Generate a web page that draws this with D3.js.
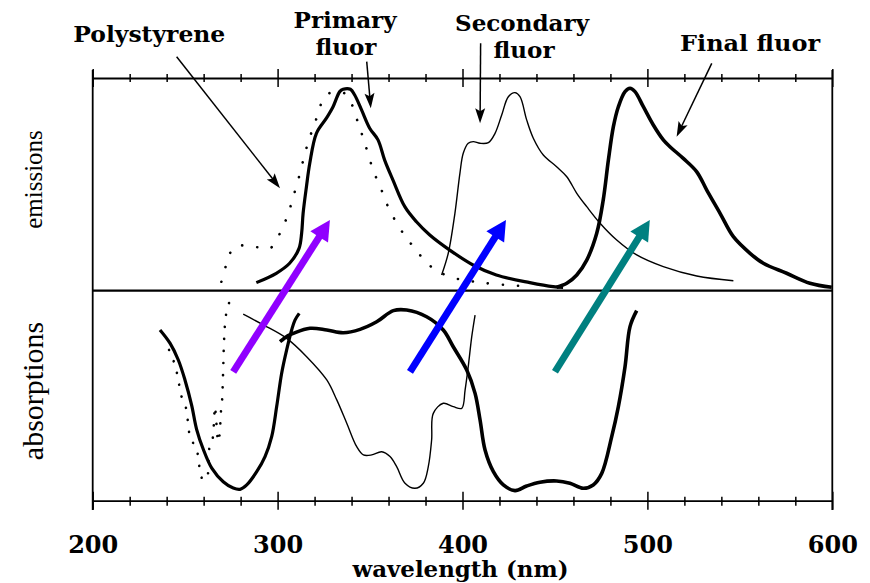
<!DOCTYPE html>
<html><head><meta charset="utf-8">
<script src="https://cdn.jsdelivr.net/npm/d3@7"></script>
<style>body{margin:0;background:#fff} svg{display:block}</style>
</head><body><svg id="chart" width="870" height="583"></svg>
<script>
// ---- data: [wavelength (nm), relative intensity] ----
const xTickValues = d3.range(200, 601, 20);
const xTickLabels = [200, 300, 400, 500, 600];

// emission spectra (upward, 0..100 units)
const polystyreneEmission = [[269.6,4.2],[272.5,12.9],[275.9,19.9],[280.5,21.3],[285.9,20.7],[291,20.3],[295.9,19.9],[301.3,27.0],[305.8,36.4],[308.5,44.2],[312.1,55.2],[314.8,64.6],[317.5,72.4],[320.2,78.7],[322.9,86.5],[326.4,92.0],[331.9,93.6],[336.3,92.8],[339.1,89.7],[343.6,78.7],[347.2,69.3],[351.7,56.7],[356.2,47.3],[360.6,37.9],[367.9,27.0],[374.2,19.9],[382.3,11.8],[393.1,6.6],[413.0,3.5],[432.8,2.2]];
const primaryEmission = [[288.5,3.8],[299.3,8.2],[306.5,12.9],[311.6,19.9],[313.0,27.0],[313.8,36.4],[315.6,48.9],[317.4,59.9],[321.0,74.0],[326.4,81.1],[330.0,86.5],[333.6,93.6],[335.4,94.7],[339.4,94.7],[341.7,92.0],[345.4,85.0],[349.8,76.4],[354.3,70.9],[357.9,61.4],[362.4,52.0],[368.8,39.5],[375.1,32.4],[382.3,26.2],[393.1,19.1],[405.7,12.1],[418.3,7.4],[436.4,3.8],[449.0,1.9],[454.4,1.6]];
const secondaryEmission = [[388.7,7.4],[392.3,17.6],[395.9,36.4],[398.6,55.2],[400.4,64.6],[403.1,69.3],[405.8,70.1],[409.5,69.3],[414.0,69.6],[417.6,74.0],[421.2,82.6],[424.8,91.2],[428.4,93.1],[431.1,91.2],[434.7,80.3],[438.3,71.7],[443.7,63.8],[450.9,58.3],[456.4,53.6],[461.8,45.8],[467.2,39.5],[474.4,31.7],[483.4,23.8],[494.2,16.8],[508.6,11.3],[526.7,6.9],[546.5,4.7]];
const finalEmission = [[450.9,1.6],[456.4,3.5],[461.8,7.4],[467.2,14.4],[472.6,27.0],[476.1,42.6],[478.9,61.4],[481.6,77.1],[484.3,86.5],[487.9,93.6],[490.6,95.2],[493.3,93.6],[497.8,86.5],[503.2,77.9],[508.6,70.9],[512.2,67.7],[519.4,62.2],[526.7,55.9],[532.1,47.3],[539.3,36.4],[546.5,25.4],[555.5,17.6],[562.7,12.9],[575.3,8.2],[587.9,3.5],[599.7,1.6]];

// absorption spectra (downward, 0..100 units)
const polystyreneAbsorption = [[241.3,28.2],[244.5,35.4],[246.3,42.5],[247.8,49.7],[250.5,56.0],[251.7,64.0],[253.0,71.1],[255.3,73.5],[257.1,79.0],[258.2,87.0],[259.8,90.1],[261.7,89.3],[263.1,75.0],[264.9,70.3],[265.6,62.4],[266.1,55.2],[267.9,71.9],[268.8,67.1],[269.2,59.2],[270.0,52.0],[270.3,44.9],[270.6,37.0],[270.8,29.8],[271.1,22.7],[271.6,15.5],[272.8,8.4],[276.0,1.0]];
const primaryAbsorption = [[236.4,18.7],[241.8,25.0],[246.3,33.0],[249.9,42.5],[253.5,54.5],[256.2,66.0],[259.8,75.5],[264.4,84.5],[270.6,91.0],[276.0,94.0],[279.7,94.6],[283.3,92.5],[288.7,86.2],[293.2,79.0],[296.8,69.5],[299.5,55.2],[302.2,39.3],[304.9,28.2],[307.6,18.7],[309.4,14.0],[311.7,10.8]];
const secondaryAbsorption = [[281.4,11.2],[292.3,16.3],[304.9,22.7],[315.7,31.4],[326.6,42.5],[332.0,52.0],[337.4,63.1],[342.8,74.3],[346.4,78.2],[350.9,78.2],[356.3,76.7],[360.8,79.0],[364.4,83.8],[368.9,91.7],[374.3,94.1],[378.8,91.7],[381.5,83.8],[383.3,71.1],[384.2,58.4],[389.6,53.6],[395.0,55.2],[399.6,56.0],[401.4,47.3],[403.1,36.2],[405.0,21.9],[406.8,11.6]];
const finalAbsorption = [[301.3,24.3],[305.5,21.5],[308.5,20.3],[317.5,17.9],[326.6,18.7],[335.5,20.0],[344.6,18.4],[353.6,14.8],[362.6,9.5],[369.8,9.2],[380.6,12.4],[389.6,18.7],[395.0,26.7],[402.3,37.8],[406.8,48.9],[409.5,61.6],[412.2,75.9],[416.7,86.2],[422.1,92.5],[428.4,95.2],[434.7,93.0],[441.9,91.2],[450.9,90.6],[458.1,91.7],[465.3,94.1],[470.7,92.5],[475.3,87.0],[480.7,69.5],[484.3,55.2],[487.9,36.2],[490.6,17.1],[494.2,9.5]];

// energy-transfer arrows: from absorption (nm, depth) to emission (nm, height)
const transferFromNm = [276.0, 371.6, 450.0];
const transferToNm = [328.3, 423.5, 501.3];
const transferColors = ["#9000ff", "#0000ff", "#008080"];

// callout labels and pointer arrows (nm, emission units above axis)
const calloutLines = [
  {text: "Polystyrene", nm: 230.6, v: 116.9, len: 152},
  {text: "Primary", nm: 336.5, v: 123.3, len: 103},
  {text: "fluor", nm: 337.0, v: 110.8, len: 61},
  {text: "Secondary", nm: 432.2, v: 122.1, len: 134},
  {text: "fluor", nm: 433.3, v: 109.4, len: 61},
  {text: "Final fluor", nm: 555.5, v: 112.7, len: 140}
];
const pointers = [
  {from: [245.4, 110.0], to: [301.3, 48.2]},
  {from: [348.2, 107.7], to: [350.4, 85.8]},
  {from: [409.8, 116.3], to: [409.5, 78.7]},
  {from: [534.8, 106.9], to: [515.8, 72.4]}
];

// ---- drawing ----
const svg = d3.select("#chart");
const x = d3.scaleLinear().domain([200, 600]).range([92.7, 832.3]);
const yEm = d3.scaleLinear().domain([0, 100]).range([290.7, 78]);
const yAb = d3.scaleLinear().domain([0, 100]).range([290.7, 500.7]);
const serifBold = "'DejaVu Serif', serif";

// axes top and bottom
function styleAxis(g, majorUp, majorDown, minorUp, minorDown) {
  g.select(".domain").attr("stroke", "#000").attr("stroke-width", 1.8);
  g.selectAll(".tick line")
    .attr("stroke", "#000").attr("stroke-width", 1.5)
    .attr("y1", d => d % 100 === 0 ? -majorUp : -minorUp)
    .attr("y2", d => d % 100 === 0 ? majorDown : minorDown);
}
const topAxis = svg.append("g").attr("transform", `translate(0,${yEm(100)})`)
  .call(d3.axisBottom(x).tickValues(xTickValues).tickFormat("").tickSizeOuter(0));
styleAxis(topAxis, 9, 9, 4, 4);

const bottomAxis = svg.append("g").attr("transform", `translate(0,${yAb(100)})`)
  .call(d3.axisBottom(x).tickValues(xTickValues)
    .tickFormat(d => xTickLabels.includes(d) ? d : "").tickSizeOuter(0));
styleAxis(bottomAxis, 9, 9, 4, 5);
bottomAxis.selectAll(".tick text")
  .attr("y", 52).attr("dy", 0)
  .attr("fill", "#000")
  .style("font-family", serifBold).style("font-size", "24px").style("font-weight", "bold");

// frame sides and middle baseline
svg.append("line").attr("x1", x(200)).attr("x2", x(200)).attr("y1", 70).attr("y2", 510)
  .attr("stroke", "#000").attr("stroke-width", 1.8);
svg.append("line").attr("x1", x(600)).attr("x2", x(600)).attr("y1", 70).attr("y2", 510)
  .attr("stroke", "#000").attr("stroke-width", 1.8);
svg.append("line").attr("x1", x(200)).attr("x2", x(600)).attr("y1", yEm(0)).attr("y2", yEm(0))
  .attr("stroke", "#000").attr("stroke-width", 2.2);

// spectra
const curve = d3.curveCatmullRom.alpha(0.5);
const lineEm = d3.line().x(d => x(d[0])).y(d => yEm(d[1])).curve(curve);
const lineAb = d3.line().x(d => x(d[0])).y(d => yAb(d[1])).curve(curve);
const spectra = [
  {data: polystyreneEmission, gen: lineEm, w: 2.6, dash: "0.1 15"},
  {data: polystyreneAbsorption, gen: lineAb, w: 2.6, dash: "0.1 12"},
  {data: primaryEmission, gen: lineEm, w: 3.2},
  {data: primaryAbsorption, gen: lineAb, w: 3.2},
  {data: secondaryEmission, gen: lineEm, w: 1.4},
  {data: secondaryAbsorption, gen: lineAb, w: 1.4},
  {data: finalEmission, gen: lineEm, w: 3.6},
  {data: finalAbsorption, gen: lineAb, w: 3.6}
];
spectra.forEach(s => {
  svg.append("path").attr("d", s.gen(s.data))
    .attr("fill", "none").attr("stroke", "#000")
    .attr("stroke-width", s.w)
    .attr("stroke-linejoin", "round")
    .attr("stroke-linecap", s.dash ? "round" : "butt")
    .attr("stroke-dasharray", s.dash || null);
});

// arrow helper
function arrow(g, x1, y1, x2, y2, color, width, headLen, headHalf, notch) {
  const dx = x2 - x1, dy = y2 - y1, L = Math.hypot(dx, dy);
  const ux = dx / L, uy = dy / L, px = -uy, py = ux;
  const bx = x2 - ux * headLen, by = y2 - uy * headLen;
  const sx = x2 - ux * (headLen - notch) , sy = y2 - uy * (headLen - notch);
  g.append("line").attr("x1", x1).attr("y1", y1).attr("x2", sx + ux * 1).attr("y2", sy + uy * 1)
    .attr("stroke", color).attr("stroke-width", width);
  const pts = [[x2, y2], [bx + px * headHalf, by + py * headHalf], [sx, sy], [bx - px * headHalf, by - py * headHalf]];
  g.append("polygon").attr("points", pts.map(p => p.join(",")).join(" ")).attr("fill", color);
}

// transfer arrows
const arrowsG = svg.append("g");
transferFromNm.forEach((f, i) => {
  arrow(arrowsG, x(f), yAb(38.6), x(transferToNm[i]), yEm(33.2), transferColors[i], 7, 20, 10.5, 0);
});

// callouts
calloutLines.forEach(c => {
  svg.append("text").attr("x", x(c.nm)).attr("y", yEm(c.v))
    .attr("text-anchor", "middle")
    .attr("textLength", c.len).attr("lengthAdjust", "spacingAndGlyphs")
    .style("font-family", serifBold).style("font-size", "22px").style("font-weight", "bold")
    .text(c.text);
});
pointers.forEach(p => {
  arrow(svg, x(p.from[0]), yEm(p.from[1]), x(p.to[0]), yEm(p.to[1]), "#000", 1.5, 15, 5, 3);
});

// axis titles
svg.append("text").attr("x", 460.5).attr("y", 577)
  .attr("text-anchor", "middle").attr("textLength", 216).attr("lengthAdjust", "spacingAndGlyphs")
  .style("font-family", serifBold).style("font-size", "22px").style("font-weight", "bold")
  .text("wavelength (nm)");
svg.append("text").attr("transform", "translate(42,179.5) rotate(-90)")
  .attr("text-anchor", "middle")
  .style("font-family", "'Liberation Serif', serif").style("font-size", "25px")
  .text("emissions");
svg.append("text").attr("transform", "translate(43,391) rotate(-90)")
  .attr("text-anchor", "middle")
  .style("font-family", "'Liberation Serif', serif").style("font-size", "30px")
  .text("absorptions");
</script></body></html>
